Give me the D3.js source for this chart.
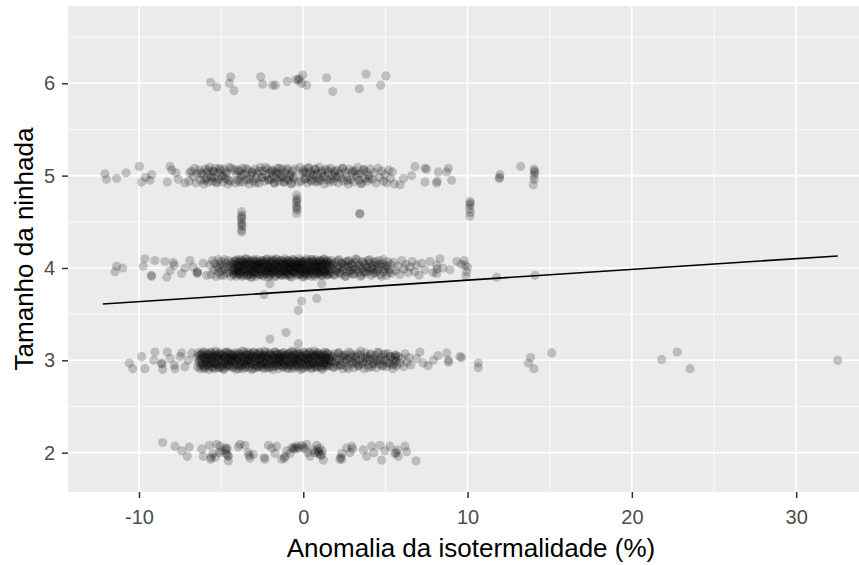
<!DOCTYPE html>
<html>
<head>
<meta charset="utf-8">
<script src="https://cdn.jsdelivr.net/npm/d3@7"></script>
<style>
html,body{margin:0;padding:0;background:#fff;}
svg{display:block;}
</style>
</head>
<body>
<svg id="chart" width="859" height="565"></svg>
<script>
// ---- data (x = isothermality anomaly %, y = jittered litter size) ----
const xTicks = [-10, 0, 10, 20, 30];
const yTicks = [2, 3, 4, 5, 6];
const xMinor = [-5, 5, 15, 25];
const yMinor = [2.5, 3.5, 4.5, 5.5, 6.5];
const xTitle = "Anomalia da isotermalidade (%)";
const yTitle = "Tamanho da ninhada";
const fitX = [-12.2, 32.53];
const fitY = [3.61, 4.13];

const row6 = [[-5.64,6.01],[-5.27,5.96],[-4.42,6.07],[-4.5,6.0],[-4.22,5.92],[-2.59,6.07],[-2.47,5.99],[-1.86,5.98],[-1.7,5.98],[-0.97,6.02],[-0.44,6.04],[-0.24,6.05],[-0.04,6.09],[-0.1,6.0],[0.21,5.98],[1.42,6.06],[1.79,5.91],[3.41,5.94],[3.82,6.1],[4.71,5.98],[5.03,6.08],[-0.3,6.03]];

const row5 = [[-12.07,5.02],[-11.97,4.96],[-11.36,4.97],[-10.79,5.03],[-9.98,5.1],[-9.84,4.93],[-9.33,4.95],[-9.23,5.01],[-8.11,5.1],[-8.28,4.93],[-7.75,5.03],[-7.61,4.96],[-7.2,4.92],[-6.9,5.03],[-8.0,5.06],[-9.6,4.98],
[-6.95,4.94],[-6.82,5.05],[-6.7,4.99],[-6.61,5.08],[-6.52,4.92],[-6.44,5.02],[-6.33,5.06],[-6.25,4.95],[-6.14,5.01],[-6.05,4.91],
[-5.97,5.07],[-5.9,4.97],[-5.84,5.03],[-5.77,4.93],[-5.7,5.09],[-5.63,5.0],[-5.55,4.94],[-5.49,5.05],[-5.41,4.98],[-5.35,5.08],[-5.27,4.92],[-5.2,5.03],[-5.12,4.96],[-5.05,5.06],
[-4.97,5.0],[-4.9,4.93],[-4.82,5.07],[-4.74,4.97],[-4.66,5.04],[-4.58,4.91],[-4.5,5.09],[-4.42,4.94],[-4.18,5.06],[-4.12,4.92],[-4.06,5.01],[-4.35,5.08],
[-3.96,4.95],[-3.88,5.05],[-3.8,4.99],[-3.71,5.08],[-3.63,4.93],[-3.55,5.02],[-3.46,4.96],[-3.38,5.06],[-3.29,4.91],[-3.2,5.0],[-3.12,5.04],[-3.04,4.94],
[-2.95,5.07],[-2.87,4.97],[-2.79,5.02],[-2.7,4.92],[-2.62,5.09],[-2.53,4.98],[-2.45,5.05],[-2.36,4.94],[-2.28,5.01],[-2.19,5.07],[-2.1,4.95],[-2.03,5.03],
[-1.96,4.96],[-1.9,5.06],[-1.83,5.0],[-1.77,4.92],[-1.7,5.04],[-1.63,4.97],[-1.57,5.08],[-1.5,4.94],[-1.43,5.02],[-1.36,4.99],[-1.29,5.07],[-1.2,4.93],[-1.12,5.03],[-1.05,4.97],
[-0.97,5.08],[-0.9,4.95],[-0.82,5.01],[-0.74,4.91],[-0.66,5.05],[-0.58,4.97],[-0.2,5.09],[-0.14,4.94],[-0.07,5.02],[-0.5,5.07],[-0.28,4.93],[-0.6,4.99],
[0.03,5.06],[0.1,4.96],[0.17,5.03],[0.25,4.92],[0.32,5.08],[0.4,4.99],[0.47,5.04],[0.55,4.94],[0.62,5.01],[0.7,5.07],[0.78,4.93],[0.85,5.02],[0.92,4.97],[0.98,5.09],
[1.05,4.95],[1.13,5.05],[1.2,4.99],[1.28,4.91],[1.36,5.07],[1.44,4.96],[1.52,5.03],[1.6,4.93],[1.68,5.08],[1.76,5.0],[1.84,4.94],[1.91,5.05],[1.97,4.98],
[2.05,5.06],[2.13,4.92],[2.22,5.02],[2.3,4.97],[2.39,5.08],[2.47,4.94],[2.56,5.04],[2.64,4.99],[2.73,4.91],[2.81,5.07],[2.9,4.96],[2.97,5.03],
[3.06,4.93],[3.14,5.05],[3.23,4.99],[3.31,5.09],[3.4,4.95],[3.48,5.02],[3.57,4.92],[3.65,5.06],[3.74,4.97],[3.82,5.04],[3.9,4.94],[3.98,5.0],
[4.08,5.07],[4.2,4.96],[4.31,5.03],[4.43,4.92],[4.55,5.08],[4.66,4.98],[4.78,5.05],[4.88,4.94],[4.97,5.01],
[5.08,4.92],[5.2,5.06],[5.3,4.97],[5.42,5.04],[5.55,4.91],
[5.89,4.9],[6.6,5.0],[6.8,5.1],[7.41,5.08],[7.41,4.93],[8.12,4.92],[8.22,5.04],[8.83,5.08],[9.03,4.95],[8.73,5.04],[7.5,5.07],[8.15,4.94],[6.1,4.97],
[11.97,5.01],[11.93,4.97],[11.95,4.98],[13.23,5.1],[14.04,5.07],[14.1,5.03],[14.04,5.0],[14.0,4.9],[14.06,4.96],[14.08,5.05]];

const row5b = [[-6.2,5.03],[-6.0,4.95],[-5.8,5.06],[-5.6,4.98],[-5.45,5.04],[-5.3,4.93],[-5.1,5.08],[-4.9,4.99],[-4.7,5.02],[-4.55,4.95],[-4.0,5.06],[-3.85,4.93],[-3.7,5.01],[-3.5,5.08],[-3.3,4.96],[-3.1,5.03],[-2.9,4.92],[-2.7,5.05],[-2.5,4.98],[-2.3,5.09],[-2.1,4.96],[-1.9,5.05],[-1.75,4.92],[-1.6,5.02],[-1.45,5.08],[-1.3,4.98],[-1.15,4.93],[-1.0,5.06],[-0.8,5.0],[-0.7,4.92],[0.0,5.04],[0.15,4.97],[0.3,5.09],[0.45,4.95],[0.6,5.01],[0.75,5.07],[0.9,4.94],[1.1,5.03],[1.3,4.99],[1.5,5.06],[1.7,4.96],[1.9,5.03],[2.1,4.99],[2.4,5.08],[2.7,4.95],[3.0,5.05],[3.3,5.01],[3.5,4.91],[3.7,5.07],[4.0,4.97]];

const stacks = [[10.15,4.72],[10.15,4.68],[10.12,4.64],[10.17,4.6],[10.14,4.56],[10.16,4.7],
[-3.75,4.61],[-3.74,4.57],[-3.76,4.53],[-3.75,4.49],[-3.73,4.45],[-3.76,4.41],[-3.74,4.39],[-3.75,4.55],[-3.74,4.47],
[-0.4,4.79],[-0.39,4.75],[-0.41,4.71],[-0.4,4.67],[-0.38,4.63],[-0.41,4.59],[-0.39,4.73],[-0.4,4.65],
[3.45,4.585],[3.43,4.59]];

const row4 = [[-11.46,3.96],[-11.36,4.02],[-10.99,4.0],[-9.64,4.1],[-9.74,4.02],[-9.23,3.91],[-9.25,3.92],[-9.03,4.08],[-8.42,4.07],[-8.31,3.9],[-7.91,4.06],[-7.85,4.03],[-7.4,3.94],[-6.9,4.08],[-6.45,3.95],[-6.44,3.96],[-6.46,3.94],[-6.09,4.05],[-5.88,3.92],[-7.2,4.0],[-8.1,3.97],[-6.7,4.01],
[-5.68,4.03],[-5.6,3.93],[-5.52,4.08],[-5.45,3.98],[-5.38,4.05],[-5.31,3.91],[-5.25,4.01],[-5.18,4.09],[-5.12,3.95],[-5.06,4.04],[-5.02,3.92],[-5.15,4.0],
[-4.98,4.07],[-4.93,3.97],[-4.88,4.02],[-4.84,3.92],[-4.79,4.09],[-4.74,3.99],[-4.7,4.05],[-4.65,3.94],[-4.6,4.01],[-4.55,4.08],[-4.5,3.96],[-4.46,4.03],[-4.41,3.91],[-4.37,4.06],[-4.32,3.98],[-4.27,4.04],[-4.22,3.93],[-4.18,4.0],[-4.13,4.08],[-4.09,3.95],[-4.05,4.02],[-4.01,3.97],
[-3.97,4.06],[-3.93,3.93],[-3.89,4.01],[-3.85,4.09],[-3.81,3.96],[-3.77,4.04],[-3.73,3.91],[-3.69,3.99],[-3.65,4.07],[-3.61,3.94],[-3.57,4.02],[-3.53,4.05],[-3.49,3.97],[-3.45,4.1],[-3.41,3.92],[-3.37,4.0],[-3.33,4.06],[-3.29,3.95],[-3.25,4.03],[-3.21,3.9],[-3.17,3.98],[-3.13,4.08],[-3.09,3.96],[-3.06,4.04],[-3.03,3.93],[-3.0,4.01],
[-2.97,4.07],[-2.93,3.95],[-2.89,4.02],[-2.85,3.91],[-2.81,4.09],[-2.77,3.99],[-2.73,4.04],[-2.69,3.93],[-2.65,4.0],[-2.61,4.06],[-2.57,3.96],[-2.53,4.03],[-2.49,3.92],[-2.45,4.08],[-2.41,3.98],[-2.37,4.05],[-2.33,3.94],[-2.29,4.01],[-2.25,4.09],[-2.21,3.97],[-2.17,4.03],[-2.13,3.9],[-2.09,4.0],[-2.06,4.07],[-2.03,3.95],[-2.0,4.02],
[-1.97,3.93],[-1.93,4.05],[-1.89,3.98],[-1.85,4.08],[-1.81,3.96],[-1.77,4.02],[-1.73,3.91],[-1.69,4.04],[-1.65,4.1],[-1.61,3.97],[-1.57,4.01],[-1.53,3.94],[-1.49,4.06],[-1.45,3.99],[-1.41,4.03],[-1.37,3.92],[-1.33,4.08],[-1.29,3.96],[-1.25,4.04],[-1.21,4.0],[-1.17,3.93],[-1.13,4.07],[-1.09,3.97],[-1.06,4.02],[-1.03,3.95],[-1.0,4.05],
[-0.97,3.99],[-0.93,4.08],[-0.89,3.94],[-0.85,4.03],[-0.81,3.91],[-0.77,4.06],[-0.73,3.98],[-0.69,4.01],[-0.65,4.09],[-0.61,3.95],[-0.57,4.04],[-0.53,3.97],[-0.49,4.0],[-0.45,4.07],[-0.41,3.92],[-0.37,4.02],[-0.33,3.96],[-0.29,4.05],[-0.25,4.1],[-0.21,3.93],[-0.17,4.0],[-0.13,4.06],[-0.09,3.97],[-0.05,4.03],[-0.02,3.9],[-0.9,4.0],[-0.5,4.02],[-0.1,3.99],
[0.02,4.07],[0.06,3.95],[0.1,4.01],[0.14,3.92],[0.18,4.08],[0.22,3.98],[0.26,4.04],[0.3,3.94],[0.34,4.0],[0.38,4.06],[0.42,3.96],[0.46,4.03],[0.5,3.91],[0.54,4.09],[0.58,3.99],[0.62,4.05],[0.66,3.93],[0.7,4.01],[0.74,4.07],[0.78,3.97],[0.82,4.02],[0.86,3.94],[0.9,4.05],[0.94,3.99],[0.97,4.08],[1.0,3.96],
[1.04,4.03],[1.08,3.92],[1.12,4.06],[1.16,3.98],[1.2,4.01],[1.24,4.09],[1.28,3.95],[1.32,4.04],[1.36,3.97],[1.4,4.07],[1.44,3.93],[1.48,4.0],[1.52,4.05],[1.56,3.96],[1.6,4.02],[1.65,3.94],
[1.7,4.08],[1.76,3.99],[1.82,4.04],[1.88,3.92],[1.94,4.06],[2.0,3.97],[2.06,4.02],[2.12,3.95],[2.18,4.09],[2.24,4.0],[2.3,3.93],[2.36,4.05],[2.42,3.98],[2.48,4.03],[2.54,3.91],[2.6,4.07],[2.66,3.96],[2.72,4.01],[2.78,4.08],[2.84,3.94],[2.9,4.04],[2.96,3.98],[3.0,4.02],
[3.06,3.93],[3.13,4.06],[3.2,3.99],[3.27,4.09],[3.34,3.95],[3.4,4.03],[3.47,3.91],[3.54,4.0],[3.6,4.07],[3.67,3.96],[3.74,4.04],[3.8,3.94],[3.87,4.01],[3.94,4.08],[4.0,3.97],[4.07,4.05],[4.14,3.92],[4.2,4.02],[4.26,3.98],[4.3,4.06],
[4.38,3.95],[4.45,4.03],[4.53,3.99],[4.6,4.08],[4.68,3.93],[4.75,4.01],[4.82,4.05],[4.9,3.96],[4.98,4.02],[5.06,3.92],[5.14,4.07],[5.22,3.98],[5.3,4.04],[5.38,3.94],
[5.5,4.06],[5.62,3.97],[5.75,4.02],[5.88,3.93],[6.0,4.08],[6.12,3.99],[6.25,4.04],[6.38,3.95],[6.5,4.01],[6.63,4.07],[6.77,3.96],[6.9,4.03],[7.05,3.92],[7.2,4.05],[7.4,3.98],
[8.12,4.03],[8.32,4.1],[8.12,3.94],[8.15,3.99],[8.93,3.98],[9.34,4.07],[9.84,4.03],[9.94,3.96],[9.8,4.08],[9.9,3.91],[8.5,4.0],[7.7,4.07],[7.9,3.95],[11.77,3.9],[14.1,3.92],[10.0,4.01],[9.6,4.04],
[-2.03,3.83],[-2.39,3.71],[-0.1,3.64],[0.82,3.67],[-0.3,3.54],[1.12,3.83]];

const row4b = [[-4.28,4.0],[-4.24,3.94],[-4.2,4.07],[-4.16,3.97],[-4.12,4.04],[-4.08,3.91],[-4.04,4.09],[-4.0,3.99],[-3.96,4.02],[-3.92,3.95],[-3.88,4.06],[-3.84,3.93],[-3.8,4.01],[-3.76,4.08],[-3.72,3.96],[-3.68,4.03],[-3.64,3.92],[-3.6,4.05],[-3.56,3.98],[-3.52,4.1],
[-3.48,3.96],[-3.44,4.05],[-3.4,3.92],[-3.36,4.02],[-3.32,4.08],[-3.28,3.98],[-3.24,3.93],[-3.2,4.06],[-3.16,4.0],[-3.12,3.9],[-3.08,4.04],[-3.04,3.97],[-3.0,4.09],[-2.96,3.95],[-2.92,4.01],[-2.88,4.07],[-2.84,3.94],[-2.8,4.03],[-2.76,3.99],[-2.72,4.06],
[-2.68,4.03],[-2.64,3.93],[-2.6,3.99],[-2.56,4.08],[-2.52,3.95],[-2.48,4.05],[-2.44,4.01],[-2.4,3.91],[-2.36,4.07],[-2.32,3.97],[-2.28,4.04],[-2.24,3.94],[-2.2,4.1],[-2.16,3.98],[-2.12,4.02],[-2.08,3.92],[-2.04,4.06],[-2.0,3.96],[-1.96,4.0],[-1.92,4.09],
[-1.88,4.0],[-1.84,3.94],[-1.8,4.07],[-1.76,3.97],[-1.72,4.04],[-1.68,3.91],[-1.64,4.09],[-1.6,3.99],[-1.56,4.02],[-1.52,3.95],[-1.48,4.06],[-1.44,3.93],[-1.4,4.01],[-1.36,4.08],[-1.32,3.96],[-1.28,4.03],[-1.24,3.92],[-1.2,4.05],[-1.16,3.98],[-1.12,4.1],
[-1.08,3.96],[-1.04,4.05],[-1.0,3.92],[-0.96,4.02],[-0.92,4.08],[-0.88,3.98],[-0.84,3.93],[-0.8,4.06],[-0.76,4.0],[-0.72,3.9],[-0.68,4.04],[-0.64,3.97],[-0.6,4.09],[-0.56,3.95],[-0.52,4.01],[-0.48,4.07],[-0.44,3.94],[-0.4,4.03],[-0.36,3.99],[-0.32,4.06],
[-0.28,4.03],[-0.24,3.93],[-0.2,3.99],[-0.16,4.08],[-0.12,3.95],[-0.08,4.05],[-0.04,4.01],[0.0,3.91],[0.04,4.07],[0.08,3.97],[0.12,4.04],[0.16,3.94],[0.2,4.1],[0.24,3.98],[0.28,4.02],[0.32,3.92],[0.36,4.06],[0.4,3.96],[0.44,4.0],[0.48,4.09],
[0.52,4.0],[0.56,3.94],[0.6,4.07],[0.64,3.97],[0.68,4.04],[0.72,3.91],[0.76,4.09],[0.8,3.99],[0.84,4.02],[0.88,3.95],[0.92,4.06],[0.96,3.93],[1.0,4.01],[1.04,4.08],[1.08,3.96],[1.12,4.03],[1.16,3.92],[1.2,4.05],[1.24,3.98],[1.28,4.1],
[1.32,3.96],[1.36,4.05],[1.4,3.92],[1.44,4.02],[1.48,4.08],[1.52,3.98],[1.56,3.93],[1.6,4.06],
[1.75,4.03],[1.87,3.93],[1.99,3.99],[2.11,4.08],[2.23,3.95],[2.35,4.05],[2.47,4.01],[2.59,3.91],[2.71,4.07],[2.83,3.97],[2.95,4.04],[3.07,3.94],[3.19,4.1],[3.31,3.98],[3.43,4.02],[3.55,3.92],[3.67,4.06],[3.79,3.96],[3.91,4.0],[4.03,4.09],[4.15,4.0],[4.27,3.94],[4.39,4.07],[4.51,3.97],[4.63,4.04],[4.75,3.91],[4.87,4.09],[4.99,3.99],[5.11,4.02],[5.23,3.95]];

const row3 = [[-2.03,3.23],[-1.05,3.3],[-0.3,3.18],
[-10.59,2.97],[-10.38,2.91],[-9.84,3.04],[-9.64,2.91],[-9.03,3.09],[-9.09,3.0],[-8.62,2.97],[-8.6,2.96],[-8.56,2.9],[-8.28,3.09],[-7.81,2.91],[-7.5,3.04],[-7.4,3.08],[-7.2,2.93],[-6.79,3.08],[-7.85,2.95],[-8.1,3.02],[-7.0,3.0],
[-6.48,3.03],[-6.44,2.93],[-6.4,3.08],[-6.36,2.98],[-6.32,3.05],[-6.28,2.91],[-6.24,3.01],[-6.2,3.06],[-6.16,2.96],[-6.12,3.09],[-6.07,2.94],[-6.03,3.02],
[-5.98,2.92],[-5.94,3.04],[-5.9,2.99],[-5.86,3.07],[-5.82,2.95],[-5.78,3.01],[-5.74,2.9],[-5.7,3.05],[-5.66,2.97],[-5.62,3.09],[-5.58,3.0],[-5.54,2.93],[-5.5,3.06],[-5.46,2.98],[-5.42,3.03],[-5.38,2.91],[-5.34,3.08],[-5.3,2.96],[-5.26,3.02],[-5.22,2.94],[-5.18,3.05],[-5.14,2.99],[-5.1,3.07],[-5.05,2.92],
[-4.98,3.01],[-4.94,3.06],[-4.9,2.95],[-4.86,3.03],[-4.82,2.91],[-4.78,3.08],[-4.74,2.98],[-4.7,3.04],[-4.66,2.93],[-4.62,3.0],[-4.58,3.09],[-4.54,2.96],[-4.5,3.02],[-4.46,2.94],[-4.42,3.07],[-4.38,2.99],[-4.34,3.05],[-4.3,2.92],[-4.26,3.01],[-4.22,3.06],[-4.18,2.97],[-4.14,3.03],[-4.1,2.9],[-4.05,3.0],
[-3.98,3.08],[-3.94,2.95],[-3.9,3.02],[-3.86,2.93],[-3.82,3.06],[-3.78,2.98],[-3.74,3.04],[-3.7,2.91],[-3.66,3.0],[-3.62,3.09],[-3.58,2.96],[-3.54,3.03],[-3.5,2.94],[-3.46,3.07],[-3.42,2.99],[-3.38,3.05],[-3.34,2.92],[-3.3,3.01],[-3.26,3.06],[-3.22,2.97],[-3.18,3.04],[-3.14,2.9],[-3.1,3.0],[-3.05,3.08],
[-2.98,2.95],[-2.94,3.03],[-2.9,2.92],[-2.86,3.07],[-2.82,2.99],[-2.78,3.05],[-2.74,2.93],[-2.7,3.01],[-2.66,3.09],[-2.62,2.96],[-2.58,3.02],[-2.54,2.94],[-2.5,3.06],[-2.46,2.98],[-2.42,3.04],[-2.38,2.91],[-2.34,3.0],[-2.3,3.08],[-2.26,2.95],[-2.22,3.03],[-2.18,2.97],[-2.14,3.05],[-2.1,2.92],[-2.05,3.01],
[-1.98,3.07],[-1.94,2.96],[-1.9,3.02],[-1.86,2.93],[-1.82,3.05],[-1.78,2.99],[-1.74,3.09],[-1.7,2.94],[-1.66,3.01],[-1.62,3.06],[-1.58,2.97],[-1.54,3.03],[-1.5,2.91],[-1.46,3.0],[-1.42,3.07],[-1.38,2.95],[-1.34,3.04],[-1.3,2.98],[-1.26,3.08],[-1.22,2.93],[-1.18,3.02],[-1.14,2.96],[-1.1,3.05],[-1.05,2.99],
[-0.98,2.92],[-0.94,3.06],[-0.9,3.0],[-0.86,2.95],[-0.82,3.08],[-0.78,2.97],[-0.74,3.03],[-0.7,2.91],[-0.66,3.05],[-0.62,2.99],[-0.58,3.09],[-0.54,2.94],[-0.5,3.01],[-0.46,3.06],[-0.42,2.96],[-0.38,3.02],[-0.34,2.93],[-0.3,3.07],[-0.26,2.98],[-0.22,3.04],[-0.18,2.9],[-0.14,3.0],[-0.1,3.05],[-0.05,2.95],
[0.02,3.03],[0.06,2.92],[0.1,3.08],[0.14,2.97],[0.18,3.01],[0.22,3.06],[0.26,2.94],[0.3,3.02],[0.34,2.99],[0.38,3.09],[0.42,2.95],[0.46,3.04],[0.5,2.91],[0.54,3.0],[0.58,3.07],[0.62,2.96],[0.66,3.03],[0.7,2.93],[0.74,3.05],[0.78,2.98],[0.82,3.08],[0.86,2.94],[0.9,3.01],[0.95,3.06],
[1.02,2.97],[1.06,3.04],[1.1,2.92],[1.14,3.02],[1.18,3.07],[1.22,2.95],[1.26,3.0],[1.3,3.05],[1.34,2.93],[1.38,3.03],[1.42,2.98],[1.46,3.08],[1.5,2.96],[1.55,3.01],[1.6,2.94],[1.65,3.06],
[1.72,2.99],[1.78,3.04],[1.84,2.92],[1.9,3.07],[1.96,2.97],[2.02,3.02],[2.08,2.94],[2.15,3.08],[2.21,3.0],[2.27,2.95],[2.33,3.05],[2.4,2.91],[2.46,3.03],[2.52,2.98],[2.58,3.06],[2.65,2.93],[2.71,3.01],[2.77,3.09],[2.84,2.96],[2.9,3.03],[2.96,2.99],
[3.03,3.05],[3.1,2.92],[3.17,3.02],[3.23,2.97],[3.3,3.07],[3.37,2.94],[3.43,3.0],[3.5,3.06],[3.57,2.96],[3.63,3.03],[3.7,2.91],[3.77,3.08],[3.83,2.99],[3.9,3.04],[3.96,2.95],
[4.03,3.01],[4.1,3.07],[4.17,2.93],[4.24,3.02],[4.3,2.97],[4.37,3.05],[4.44,2.92],[4.51,3.0],[4.58,3.08],[4.65,2.96],[4.72,3.03],[4.79,2.94],[4.86,3.06],[4.93,2.99],
[5.0,3.02],[5.08,2.93],[5.16,3.07],[5.24,2.97],[5.32,3.04],[5.4,2.95],[5.48,3.0],
[5.55,2.96],[5.6,3.03],[5.65,2.99],[5.7,2.94],[5.62,3.06],
[5.78,3.04],[5.88,2.97],[5.98,3.02],[6.1,2.93],[6.2,3.07],[6.32,2.98],[6.45,3.03],[6.55,2.95],
[7.1,3.09],[7.3,2.97],[7.91,3.0],[8.73,3.08],[8.83,3.0],[8.85,2.98],[9.54,3.04],[9.64,3.03],[10.65,2.97],[10.65,2.92],[13.84,3.03],[13.7,2.97],[14.04,2.91],[15.12,3.08],[21.81,3.01],[22.76,3.09],[23.54,2.91],[32.53,3.0],[8.2,3.05],[7.6,2.94],[6.9,3.02]];

const row3b = [[-6.3,3.0],[-6.25,2.94],[-6.2,3.07],[-6.15,2.97],[-6.1,3.04],[-6.05,2.91],[-6.0,3.09],[-5.95,2.99],[-5.9,3.02],[-5.85,2.95],[-5.8,3.06],[-5.75,2.93],[-5.7,3.01],[-5.65,3.08],[-5.6,2.96],[-5.55,3.03],[-5.5,2.92],[-5.45,3.05],[-5.4,2.98],[-5.35,3.1],
[-5.3,2.96],[-5.25,3.05],[-5.2,2.92],[-5.15,3.02],[-5.1,3.08],[-5.05,2.98],[-5.0,2.93],[-4.95,3.06],[-4.9,3.0],[-4.85,2.9],[-4.8,3.04],[-4.75,2.97],[-4.7,3.09],[-4.65,2.95],[-4.6,3.01],[-4.55,3.07],[-4.5,2.94],[-4.45,3.03],[-4.4,2.99],[-4.35,3.06],
[-4.3,3.03],[-4.25,2.93],[-4.2,2.99],[-4.15,3.08],[-4.1,2.95],[-4.05,3.05],[-4.0,3.01],[-3.95,2.91],[-3.9,3.07],[-3.85,2.97],[-3.8,3.04],[-3.75,2.94],[-3.7,3.1],[-3.65,2.98],[-3.6,3.02],[-3.55,2.92],[-3.5,3.06],[-3.45,2.96],[-3.4,3.0],[-3.35,3.09],
[-3.3,3.0],[-3.25,2.94],[-3.2,3.07],[-3.15,2.97],[-3.1,3.04],[-3.05,2.91],[-3.0,3.09],[-2.95,2.99],[-2.9,3.02],[-2.85,2.95],[-2.8,3.06],[-2.75,2.93],[-2.7,3.01],[-2.65,3.08],[-2.6,2.96],[-2.55,3.03],[-2.5,2.92],[-2.45,3.05],[-2.4,2.98],[-2.35,3.1],
[-2.3,2.96],[-2.25,3.05],[-2.2,2.92],[-2.15,3.02],[-2.1,3.08],[-2.05,2.98],[-2.0,2.93],[-1.95,3.06],[-1.9,3.0],[-1.85,2.9],[-1.8,3.04],[-1.75,2.97],[-1.7,3.09],[-1.65,2.95],[-1.6,3.01],[-1.55,3.07],[-1.5,2.94],[-1.45,3.03],[-1.4,2.99],[-1.35,3.06],
[-1.3,3.03],[-1.25,2.93],[-1.2,2.99],[-1.15,3.08],[-1.1,2.95],[-1.05,3.05],[-1.0,3.01],[-0.95,2.91],[-0.9,3.07],[-0.85,2.97],[-0.8,3.04],[-0.75,2.94],[-0.7,3.1],[-0.65,2.98],[-0.6,3.02],[-0.55,2.92],[-0.5,3.06],[-0.45,2.96],[-0.4,3.0],[-0.35,3.09],
[-0.3,3.0],[-0.25,2.94],[-0.2,3.07],[-0.15,2.97],[-0.1,3.04],[-0.05,2.91],[0.0,3.09],[0.05,2.99],[0.1,3.02],[0.15,2.95],[0.2,3.06],[0.25,2.93],[0.3,3.01],[0.35,3.08],[0.4,2.96],[0.45,3.03],[0.5,2.92],[0.55,3.05],[0.6,2.98],[0.65,3.1],
[0.7,2.96],[0.75,3.05],[0.8,2.92],[0.85,3.02],[0.9,3.08],[0.95,2.98],[1.0,2.93],[1.05,3.06],[1.1,3.0],[1.15,2.9],[1.2,3.04],[1.25,2.97],[1.3,3.09],[1.35,2.95],[1.4,3.01],[1.45,3.07],[1.5,2.94],[1.55,3.03],[1.6,2.99],
[1.7,3.03],[1.85,2.93],[2.0,2.99],[2.15,3.08],[2.3,2.95],[2.45,3.05],[2.6,3.01],[2.75,2.91],[2.9,3.07],[3.05,2.97],[3.2,3.04],[3.35,2.94],[3.5,3.1],[3.65,2.98],[3.8,3.02],[3.95,2.92],[4.1,3.06],[4.25,2.96],[4.4,3.0],[4.55,3.09],[4.7,3.0],[4.85,2.94],[5.0,3.07],[5.15,2.97],[5.3,3.04],[5.45,2.91],[5.6,3.05]];

const row2 = [[-8.56,2.11],[-7.81,2.07],[-7.4,2.02],[-6.94,2.06],[-7.06,1.96],[-6.18,2.04],[-6.09,1.96],[-5.64,1.93],[-5.72,2.08],[-5.27,2.09],[-5.07,2.07],[-4.97,2.02],[-4.7,1.99],[-4.56,1.91],[-4.63,2.05],[-3.85,2.09],[-3.55,2.08],[-3.35,2.0],[-3.24,1.94],[-3.04,1.98],[-2.33,1.93],[-2.13,2.08],[-1.92,2.05],[-1.62,2.07],[-1.72,1.99],[-1.31,1.93],[-1.11,1.96],[-0.81,1.99],[-0.57,2.04],[-0.4,2.07],[-0.1,2.08],[0.1,2.04],[0.21,2.09],[0.41,1.96],[0.71,2.0],[0.82,2.08],[0.91,1.99],[1.12,1.98],[1.22,1.92],[2.23,1.93],[2.34,1.99],[2.64,2.05],[2.84,2.0],[2.95,2.07],[3.65,2.03],[3.86,1.96],[4.16,2.07],[4.67,2.08],[4.77,1.92],[4.97,2.02],[5.28,2.07],[5.58,1.99],[5.78,1.96],[6.19,2.07],[6.29,2.01],[6.86,1.91],
[-4.68,2.03],[-4.6,1.97],[-5.6,1.95],[-5.1,2.0],[-0.55,2.06],[-0.45,2.04],[0.85,2.03],[0.95,2.01],[1.05,1.97],[2.28,1.95],[5.72,2.03],[-2.38,1.95],[-3.3,1.97],[-1.15,1.94],[0.3,2.0],
[-5.5,1.99],[-5.35,1.95],[-4.75,2.05],[-4.55,1.96],[-3.95,2.06],[-1.0,2.02],[-0.7,2.05],[-0.25,2.05],[0.0,2.06],[0.6,2.03],[1.0,2.05],[1.15,2.02],[2.35,1.93],[3.0,2.04],[4.3,2.0],[5.65,2.0]];

// ---- drawing ----
const svg = d3.select("#chart");
const P = {left: 68, right: 878, top: 6, bottom: 492};
const x = d3.scaleLinear().domain([-14.32, 34.98]).range([P.left, P.right]);
const y = d3.scaleLinear().domain([1.574, 6.837]).range([P.bottom, P.top]);
const FONT = "'Liberation Sans', Arial, sans-serif";

svg.append("defs").append("clipPath").attr("id", "clip")
  .append("rect").attr("x", P.left).attr("y", P.top)
  .attr("width", P.right - P.left).attr("height", P.bottom - P.top);

svg.append("rect").attr("x", P.left).attr("y", P.top)
  .attr("width", P.right - P.left).attr("height", P.bottom - P.top)
  .attr("fill", "#EBEBEB");

const grid = svg.append("g");
grid.selectAll(".xmin").data(xMinor).join("line")
  .attr("x1", d => x(d)).attr("x2", d => x(d)).attr("y1", P.top).attr("y2", P.bottom)
  .attr("stroke", "#fff").attr("stroke-width", 0.8);
grid.selectAll(".ymin").data(yMinor).join("line")
  .attr("y1", d => y(d)).attr("y2", d => y(d)).attr("x1", P.left).attr("x2", P.right)
  .attr("stroke", "#fff").attr("stroke-width", 0.8);
grid.selectAll(".xmaj").data(xTicks).join("line")
  .attr("x1", d => x(d)).attr("x2", d => x(d)).attr("y1", P.top).attr("y2", P.bottom)
  .attr("stroke", "#fff").attr("stroke-width", 1.6);
grid.selectAll(".ymaj").data(yTicks).join("line")
  .attr("y1", d => y(d)).attr("y2", d => y(d)).attr("x1", P.left).attr("x2", P.right)
  .attr("stroke", "#fff").attr("stroke-width", 1.6);

const pts = [].concat(row6, row5, row5b, stacks, row4, row4b, row3, row3b, row2);
svg.append("g").attr("clip-path", "url(#clip)")
  .selectAll("circle").data(pts).join("circle")
  .attr("cx", d => x(d[0])).attr("cy", d => y(d[1])).attr("r", 4.6)
  .attr("fill", "#000").attr("fill-opacity", 0.2);

const line = d3.line().x(d => x(d[0])).y(d => y(d[1]));
svg.append("path").datum(fitX.map((v, i) => [v, fitY[i]]))
  .attr("d", line).attr("fill", "none").attr("stroke", "#000").attr("stroke-width", 1.6);

// axes
const xAxis = svg.append("g").attr("transform", `translate(0,${P.bottom})`)
  .call(d3.axisBottom(x).tickValues(xTicks).tickSize(6).tickPadding(12).tickFormat(d3.format("d")));
const yAxis = svg.append("g").attr("transform", `translate(${P.left},0)`)
  .call(d3.axisLeft(y).tickValues(yTicks).tickSize(6).tickPadding(7).tickFormat(d3.format("d")));
[xAxis, yAxis].forEach(g => {
  g.select(".domain").remove();
  g.selectAll(".tick line").attr("stroke", "#333").attr("stroke-width", 1.5);
  g.selectAll(".tick text").attr("fill", "#4D4D4D")
    .style("font-family", FONT).style("font-size", "20px");
});
xAxis.selectAll(".tick text").text(d => d < 0 ? "-" + Math.abs(d) : d);

svg.append("text").attr("x", 471).attr("y", 557).attr("text-anchor", "middle")
  .style("font-family", FONT).style("font-size", "26px")
  .attr("fill", "#000").text(xTitle);
svg.append("text").attr("transform", `translate(33,${(P.top + P.bottom) / 2}) rotate(-90)`)
  .attr("text-anchor", "middle")
  .style("font-family", FONT).style("font-size", "26px")
  .attr("fill", "#000").text(yTitle);
</script>
</body>
</html>
